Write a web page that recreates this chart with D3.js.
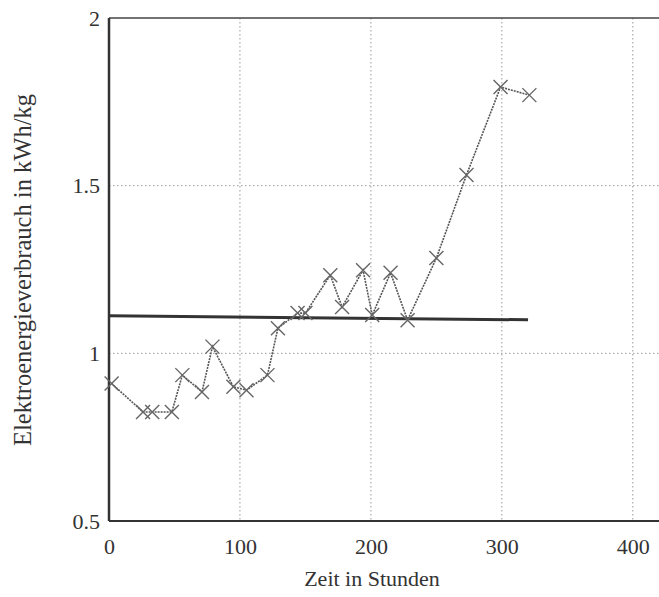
<!DOCTYPE html>
<html><head><meta charset="utf-8">
<script src="https://cdn.jsdelivr.net/npm/d3@7"></script>
<style>body{margin:0;background:#fff}svg{display:block}</style>
</head><body>
<svg id="c" width="659" height="597"></svg>
<script>
const hours  = [2, 26, 33, 48, 56, 71, 79, 95, 105, 121, 129, 144, 150, 169, 178, 194, 201, 215, 228, 250, 273, 299, 321];
const energy = [0.91, 0.825, 0.825, 0.825, 0.935, 0.885, 1.02, 0.90, 0.89, 0.935, 1.075, 1.12, 1.12, 1.233, 1.138, 1.248, 1.114, 1.24, 1.099, 1.284, 1.532, 1.794, 1.77];
const refX = [0, 320];
const refY = [1.112, 1.100];
const xTicks = [0, 100, 200, 300, 400];
const yTicks = [0.5, 1, 1.5, 2];
const yTickLabels = ["0.5", "1", "1.5", "2"];

const FONT = "'Liberation Serif','DejaVu Serif','Times New Roman',serif";
const svg = d3.select("#c");
const x = d3.scaleLinear().domain([0, 420]).range([109, 659]);
const y = d3.scaleLinear().domain([0.5, 2]).range([521, 18]);

// grid
svg.append("g").selectAll("line").data([100,200,300,400]).join("line")
  .attr("x1", d=>x(d)).attr("x2", d=>x(d)).attr("y1", y(2)).attr("y2", y(0.5))
  .attr("stroke", "#999").attr("stroke-width", 1).attr("stroke-dasharray", "1.5,2.5");
svg.append("g").selectAll("line").data([1, 1.5]).join("line")
  .attr("x1", x(0)).attr("x2", 659).attr("y1", d=>y(d)).attr("y2", d=>y(d))
  .attr("stroke", "#999").attr("stroke-width", 1).attr("stroke-dasharray", "1.5,2.5");

// frame
svg.append("line").attr("x1", x(0)).attr("x2", 659).attr("y1", y(2)).attr("y2", y(2)).attr("stroke", "#444").attr("stroke-width", 1.5);
svg.append("line").attr("x1", x(0)).attr("x2", 659).attr("y1", y(0.5)).attr("y2", y(0.5)).attr("stroke", "#333").attr("stroke-width", 2);
svg.append("line").attr("x1", x(0)).attr("x2", x(0)).attr("y1", y(2)).attr("y2", y(0.5)).attr("stroke", "#333").attr("stroke-width", 2.5);

// axes labels
const xAxis = d3.axisBottom(x).tickValues(xTicks).tickSize(0).tickPadding(17);
const gx = svg.append("g").attr("transform", `translate(0,${y(0.5)})`).call(xAxis);
gx.select(".domain").remove();
gx.attr("font-family", null).attr("font-size", null);
gx.selectAll("text").style("font-family", FONT).style("font-size", "22px").style("fill", "#333");
const yAxis = d3.axisLeft(y).tickValues(yTicks).tickFormat((d,i)=>yTickLabels[i]).tickSize(0).tickPadding(9);
const gy = svg.append("g").attr("transform", `translate(${x(0)},0)`).call(yAxis);
gy.select(".domain").remove();
gy.attr("font-family", null).attr("font-size", null);
gy.selectAll("text").style("font-family", FONT).style("font-size", "22px").style("fill", "#333");

svg.append("text").attr("x", 372).attr("y", 586).attr("text-anchor", "middle")
  .style("font-family", FONT).style("font-size", "22px").style("fill", "#333").text("Zeit in Stunden");
svg.append("text").attr("transform", "translate(31,270) rotate(-90)").attr("text-anchor", "middle")
  .style("font-family", FONT).style("font-size", "24.5px").style("fill", "#333").text("Elektroenergieverbrauch in kWh/kg");

// reference line
svg.append("line").attr("x1", x(refX[0])).attr("x2", x(refX[1])).attr("y1", y(refY[0])).attr("y2", y(refY[1]))
  .attr("stroke", "#333").attr("stroke-width", 3);

// data line
const pts = hours.map((h,i)=>[h, energy[i]]);
svg.append("path").datum(pts)
  .attr("d", d3.line().x(d=>x(d[0])).y(d=>y(d[1])))
  .attr("fill", "none").attr("stroke", "#555").attr("stroke-width", 1.6).attr("stroke-dasharray", "2,1");

// markers
const s = 7;
svg.append("g").selectAll("path").data(pts).join("path")
  .attr("d", d=>`M${x(d[0])-s},${y(d[1])-s}L${x(d[0])+s},${y(d[1])+s}M${x(d[0])-s},${y(d[1])+s}L${x(d[0])+s},${y(d[1])-s}`)
  .attr("stroke", "#666").attr("stroke-width", 1.4).attr("fill", "none");
</script>
</body></html>
